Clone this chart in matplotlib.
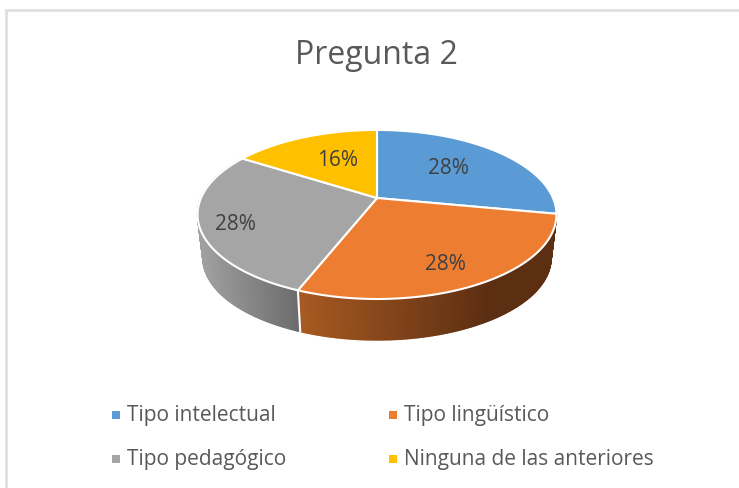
import numpy as np
import matplotlib
matplotlib.use("Agg")
import matplotlib.pyplot as plt
from matplotlib.colors import to_rgb
from matplotlib.patches import Polygon

title = "Pregunta 2"
categories = ["Tipo intelectual", "Tipo lingüístico", "Tipo pedagógico", "Ninguna de las anteriores"]
values = [28, 28, 28, 16]
colors = ["#5B9BD5", "#ED7D31", "#A5A5A5", "#FFC000"]
# wall gradient (light end, dark end, x-range in px) for slices at the front
wall_styles = {1: ("#A85A22", "#5C2E12", 297, 490), 2: ("#A0A0A0", "#6C6C6C", 200, 297)}
label_pos = [(448, 168), (445, 265), (235, 224), (338, 161)]
legend_pos = [(116, 415), (393, 415), (116, 459), (393, 459)]

plt.rcParams["font.family"] = ["Open Sans", "DejaVu Sans"]
fig = plt.figure(figsize=(7.39, 4.88), dpi=100, facecolor="white")
ax = fig.add_axes([0, 0, 1, 1])
ax.set_xlim(0, 739)
ax.set_ylim(488, 0)
ax.axis("off")

# frame
ax.plot([6, 6, 739], [488, 10, 10], color="#DDDDDD", lw=1.8, solid_joinstyle="miter")

CX, CY, A, B, K = 377.0, 198.0, 176.0, 81.3, 0.195
DROP, SHRINK = 44.0, 0.97


def project(theta, lower=False):
    """Perspective view of the pie's unit circle; theta clockwise from top (rad)."""
    x, y = np.sin(theta), np.cos(theta)
    w = 1 + K * y
    s = SHRINK if lower else 1.0
    d = DROP if lower else 0.0
    return CX + s * A * x / w, CY + d - s * B * y / w


total = sum(values)
edges = np.concatenate([[0], np.cumsum(values)]) / total * 2 * np.pi

# side walls
for i, (lo, hi) in enumerate(zip(edges[:-1], edges[1:])):
    if i not in wall_styles:
        continue
    c1, c2, x1, x2 = wall_styles[i]
    c1, c2 = np.array(to_rgb(c1)), np.array(to_rgb(c2))
    ts = np.linspace(lo, hi, 160)
    for t0, t1 in zip(ts[:-1], ts[1:]):
        ux, uy = project(np.array([t0, t1]))
        lx, ly = project(np.array([t1, t0]), lower=True)
        f = np.clip((0.5 * (ux[0] + ux[1]) - x1) / (x2 - x1), 0, 1)
        col = c1 + (c2 - c1) * f
        ax.add_patch(Polygon(np.column_stack([np.r_[ux, lx], np.r_[uy, ly]]),
                             closed=True, facecolor=col, edgecolor=col, lw=1.0, zorder=2))

# white seam between the front walls
ux, uy = project(edges[2])
lx, ly = project(edges[2], lower=True)
ax.plot([ux, lx], [uy, ly], color="white", lw=1.5, zorder=3)

# top face
for lo, hi, col in zip(edges[:-1], edges[1:], colors):
    ts = np.linspace(lo, hi, 120)
    px, py = project(ts)
    ax.add_patch(Polygon(np.column_stack([np.r_[CX, px], np.r_[CY, py]]), closed=True,
                         facecolor=col, edgecolor="white", lw=1.5, zorder=4))

# data labels
for v, (x, y) in zip(values, label_pos):
    ax.text(x, y, f"{v}%", ha="center", va="center", fontsize=15, color="#404040", zorder=5)

ax.text(376, 56, title, ha="center", va="center", fontsize=23, color="#595959")

# legend
for cat, col, (x, y) in zip(categories, colors, legend_pos):
    ax.scatter([x], [y], marker="s", s=28, color=col, linewidths=0)
    ax.text(x + 11, y, cat, ha="left", va="center", fontsize=15, color="#595959")

fig.savefig("out.png", dpi=100)
